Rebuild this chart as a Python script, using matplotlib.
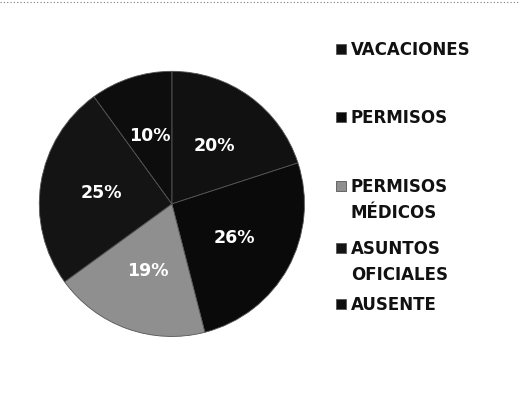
import matplotlib
matplotlib.use("Agg")
import matplotlib.pyplot as plt

categories = ["VACACIONES", "PERMISOS", "PERMISOS\nMÉDICOS", "ASUNTOS\nOFICIALES", "AUSENTE"]
values = [20, 26, 19, 25, 10]
colors = ["#111111", "#0a0a0a", "#8f8f8f", "#141414", "#0d0d0d"]

plt.rcParams['font.family'] = ['DejaVu Sans']

fig = plt.figure(figsize=(5.2, 3.99), dpi=100)
ax = fig.add_axes([0.073, 0.153, 0.515, 0.672])

wedges, texts, autotexts = ax.pie(values, colors=colors, startangle=90, counterclock=False,
                                  autopct='%d%%', pctdistance=0.54,
                                  wedgeprops=dict(linewidth=0.6, edgecolor="#555555"),
                                  textprops=dict(color="white", fontsize=12.5, fontweight="bold"))
ax.set_xlim(-1.01, 1.01)
ax.set_ylim(-1.01, 1.01)
ax.set_aspect('equal')

# legend entries placed like the original: pixel row of each entry's first line
entry_y = [50, 118, 187, 249, 305]
line_gap = 26
for w, lab, yc in zip(wedges, categories, entry_y):
    lines = lab.split("\n")
    leg = fig.legend([w], [lines[0]], loc="center left", bbox_to_anchor=(0.646, 1 - yc / 399),
                     frameon=False, fontsize=12, handlelength=0.6, handleheight=0.6,
                     handletextpad=0.3, borderpad=0, borderaxespad=0)
    for t in leg.get_texts():
        t.set_fontweight("bold")
        t.set_color("#111111")
    for k, extra in enumerate(lines[1:], start=1):
        fig.text(351 / 520, 1 - (yc + k * line_gap) / 399, extra, fontsize=12,
                 fontweight="bold", color="#111111", va="center", ha="left")

# dotted scan border along the top
fig.add_artist(plt.Line2D([0.0, 1.0], [0.995, 0.995], color="#777777", lw=0.8, ls=(0, (1, 2))))

fig.savefig("out.png", dpi=100)
